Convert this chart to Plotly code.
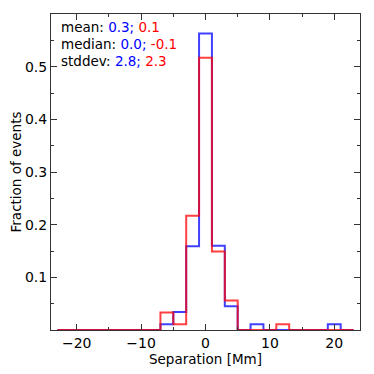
import plotly.graph_objects as go

# bin edges of the separation histogram (Mm), width 2
EDGES = list(range(-23, 24, 2))
# fraction of events per bin (centres -22 ... 22)
FRAC_BLUE = [0, 0, 0, 0, 0, 0, 0, 0, 0.011, 0.034, 0.159, 0.563, 0.160, 0.045,
             0, 0.011, 0, 0, 0, 0, 0, 0.011, 0]
FRAC_RED = [0, 0, 0, 0, 0, 0, 0, 0, 0.033, 0.011, 0.217, 0.517, 0.149, 0.056,
            0, 0, 0, 0.011, 0, 0, 0, 0, 0]

STATS_LABELS = ["mean:", "median:", "stddev:"]
STATS_BLUE = ["0.3", "0.0", "2.8"]
STATS_RED = ["0.1", "-0.1", "2.3"]

X_TICKS = [-20, -10, 0, 10, 20]
X_TICKTEXT = ["\u221220", "\u221210", "0", "10", "20"]
Y_TICKS = [0.1, 0.2, 0.3, 0.4, 0.5]

BLUE = "rgba(0,0,255,0.75)"
RED = "rgba(255,0,0,0.75)"
FONT = "DejaVu Sans"


def step_trace(values, color):
    # matplotlib-style 'step' outline: up from baseline, across bins, back down
    xs = [EDGES[0]] + EDGES
    ys = [0] + values + [0]
    return go.Scatter(x=xs, y=ys, mode="lines", line=dict(color=color, width=2, shape="hv"),
                      hoverinfo="skip", showlegend=False)


fig = go.Figure()
fig.add_trace(step_trace(FRAC_BLUE, BLUE))
fig.add_trace(step_trace(FRAC_RED, RED))

for i, lab in enumerate(STATS_LABELS):
    fig.add_annotation(
        xref="paper", yref="paper", x=0.025, y=0.99 - i * 0.053,
        xanchor="left", yanchor="top", showarrow=False,
        text=f"{lab} <span style='color:blue'>{STATS_BLUE[i]};</span> "
             f"<span style='color:red'>{STATS_RED[i]}</span>",
        font=dict(family=FONT, size=13.5, color="black"),
    )

axis_common = dict(showline=True, linecolor="#333", linewidth=1, mirror="ticks",
                   ticks="inside", ticklen=6, tickcolor="#333", showgrid=False,
                   zeroline=False, automargin=False,
                   tickfont=dict(family=FONT, size=14, color="black"))

# the page body adds an 8px offset, so the figure is shrunk to keep the axes in place
fig.update_layout(
    width=366, height=366,
    margin=dict(l=43, r=14, t=6, b=44),
    paper_bgcolor="white", plot_bgcolor="white",
    font=dict(family=FONT, size=13, color="black"),
    xaxis=dict(**axis_common, range=[-24, 24], tickvals=X_TICKS, ticktext=X_TICKTEXT,
               minor=dict(ticks="inside", ticklen=3, dtick=5, tick0=0, tickcolor="#333"),
               title=dict(text="Separation [Mm]", font=dict(family=FONT, size=13.5), standoff=2)),
    yaxis=dict(**axis_common, range=[0, 0.6], tickvals=Y_TICKS,
               minor=dict(ticks="inside", ticklen=3, dtick=0.05, tick0=0, tickcolor="#333"),
               title=dict(text="Fraction of events", font=dict(family=FONT, size=13.5), standoff=4)),
)

fig.write_html("out.html")
